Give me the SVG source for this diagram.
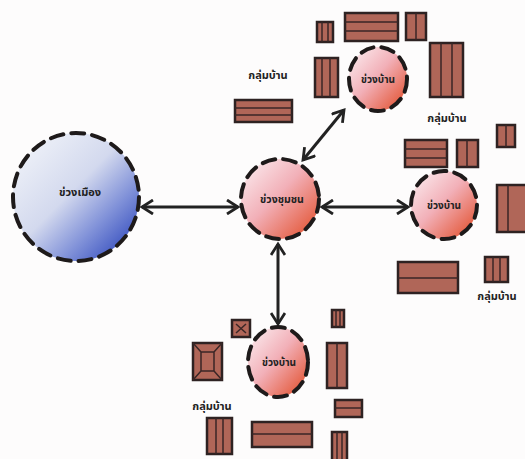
<svg xmlns="http://www.w3.org/2000/svg" width="525" height="459" viewBox="0 0 525 459">
<style>
.ring{fill:none;stroke:#1e1a1a;stroke-width:4;stroke-dasharray:13 8;stroke-linecap:round}
.lbl{font-family:"Noto Sans","Noto Sans Thai","Liberation Sans",sans-serif;font-weight:bold;fill:#222;text-anchor:middle}
.house{fill:#b06658;stroke:#2e2222;stroke-width:2.5}
.in{stroke:#3a2626;stroke-width:1.5;fill:none}
.con{stroke:#222;stroke-width:3;fill:none;marker-start:url(#ah);marker-end:url(#ah)}
</style>
<defs>
<linearGradient id="gBlue" x1="0.1" y1="0.1" x2="0.9" y2="0.9">
<stop offset="0" stop-color="#eef1f8"/>
<stop offset="0.45" stop-color="#d3d9ee"/>
<stop offset="0.75" stop-color="#7f90d8"/>
<stop offset="1" stop-color="#3a52c0"/>
</linearGradient>
<linearGradient id="gRed" x1="0.1" y1="0.1" x2="0.9" y2="0.9">
<stop offset="0" stop-color="#fae4e8"/>
<stop offset="0.45" stop-color="#f2b0b8"/>
<stop offset="1" stop-color="#e45a3c"/>
</linearGradient>
<marker id="ah" viewBox="0 0 16 16" refX="13" refY="8" markerWidth="16" markerHeight="16" markerUnits="userSpaceOnUse" orient="auto-start-reverse">
<path d="M2,1 L13,8 L2,15" fill="none" stroke="#222" stroke-width="2.8"/>
</marker>
</defs>
<rect width="525" height="459" fill="#fdfcfc"/>

<g id="connectors">
<line class="con" x1="142" y1="207" x2="238" y2="207"/>
<line class="con" x1="322" y1="207" x2="408" y2="207"/>
<line class="con" x1="303" y1="160" x2="344" y2="110"/>
<line class="con" x1="278" y1="244" x2="278" y2="324"/>
</g>

<g id="khuang-mueang">
<ellipse cx="76" cy="197" rx="63" ry="64" fill="url(#gBlue)"/>
<ellipse class="ring" cx="76" cy="197" rx="63" ry="64" stroke-width="4.5"/>
<text class="lbl" x="80" y="196" font-size="11">ข่วงเมือง</text>
</g>

<g id="khuang-chumchon">
<ellipse cx="280" cy="199" rx="39" ry="40" fill="url(#gRed)"/>
<ellipse class="ring" cx="280" cy="199" rx="39" ry="40" stroke-dasharray="10 7"/>
<text class="lbl" x="282" y="203" font-size="10.5">ข่วงชุมชน</text>
</g>

<g id="khuang-ban-top">
<ellipse cx="378" cy="79" rx="29" ry="32" fill="url(#gRed)"/>
<ellipse class="ring" cx="378" cy="79" rx="29" ry="32" stroke-dasharray="9 7"/>
<text class="lbl" x="378" y="83" font-size="10">ข่วงบ้าน</text>
</g>

<g id="khuang-ban-right">
<ellipse cx="444" cy="205" rx="33" ry="34" fill="url(#gRed)"/>
<ellipse class="ring" cx="444" cy="205" rx="33" ry="34" stroke-dasharray="9 7"/>
<text class="lbl" x="444" y="209" font-size="10">ข่วงบ้าน</text>
</g>

<g id="khuang-ban-bottom">
<ellipse cx="278" cy="362" rx="30" ry="35" fill="url(#gRed)"/>
<ellipse class="ring" cx="278" cy="362" rx="30" ry="35" stroke-dasharray="9 7"/>
<text class="lbl" x="279" y="366" font-size="10">ข่วงบ้าน</text>
</g>

<g id="houses-top">
<rect class="house" x="317" y="22" width="16" height="20"/>
<path class="in" d="M322,22V42M328,22V42"/>
<rect class="house" x="345" y="13" width="53" height="28"/>
<path class="in" d="M345,22H398M345,31H398"/>
<rect class="house" x="406" y="13" width="20" height="27"/>
<path class="in" d="M416,13V40"/>
<rect class="house" x="315" y="58" width="23" height="39"/>
<path class="in" d="M322,58V97M330,58V97"/>
<rect class="house" x="430" y="43" width="33" height="54"/>
<path class="in" d="M441,43V97M452,43V97"/>
<rect class="house" x="235" y="100" width="57" height="22"/>
<path class="in" d="M235,108H292M235,115H292"/>
<text class="lbl" x="268" y="79" font-size="11">กลุ่มบ้าน</text>
<text class="lbl" x="447" y="122" font-size="11">กลุ่มบ้าน</text>
</g>

<g id="houses-right">
<rect class="house" x="405" y="140" width="42" height="27"/>
<path class="in" d="M405,149H447M405,158H447"/>
<rect class="house" x="457" y="140" width="21" height="27"/>
<path class="in" d="M467,140V167"/>
<rect class="house" x="497" y="125" width="18" height="22"/>
<path class="in" d="M506,125V147"/>
<rect class="house" x="497" y="185" width="32" height="47"/>
<path class="in" d="M508,185V232"/>
<rect class="house" x="398" y="262" width="60" height="31"/>
<path class="in" d="M398,278H458"/>
<rect class="house" x="485" y="257" width="23" height="25"/>
<path class="in" d="M493,257V282M500,257V282"/>
<text class="lbl" x="497" y="300" font-size="11">กลุ่มบ้าน</text>
</g>

<g id="houses-bottom">
<rect class="house" x="232" y="320" width="18" height="17"/>
<path class="in" d="M236,324L246,333M246,324L236,333"/>
<rect class="house" x="193" y="343" width="29" height="37"/>
<path class="in" d="M193,343L201,352H214L222,343M193,380L201,371H214L222,380M201,352V371M214,352V371"/>
<text class="lbl" x="212" y="410" font-size="11">กลุ่มบ้าน</text>
<rect class="house" x="207" y="418" width="25" height="36"/>
<path class="in" d="M216,418V454M223,418V454"/>
<rect class="house" x="252" y="422" width="60" height="25"/>
<path class="in" d="M252,434H312"/>
<rect class="house" x="332" y="310" width="12" height="17"/>
<path class="in" d="M336,310V327M340,310V327"/>
<rect class="house" x="327" y="343" width="20" height="45"/>
<path class="in" d="M337,343V388"/>
<rect class="house" x="335" y="400" width="27" height="17"/>
<path class="in" d="M335,408H362"/>
<rect class="house" x="332" y="432" width="15" height="30"/>
<path class="in" d="M337,432V459M342,432V459"/>
</g>
</svg>
